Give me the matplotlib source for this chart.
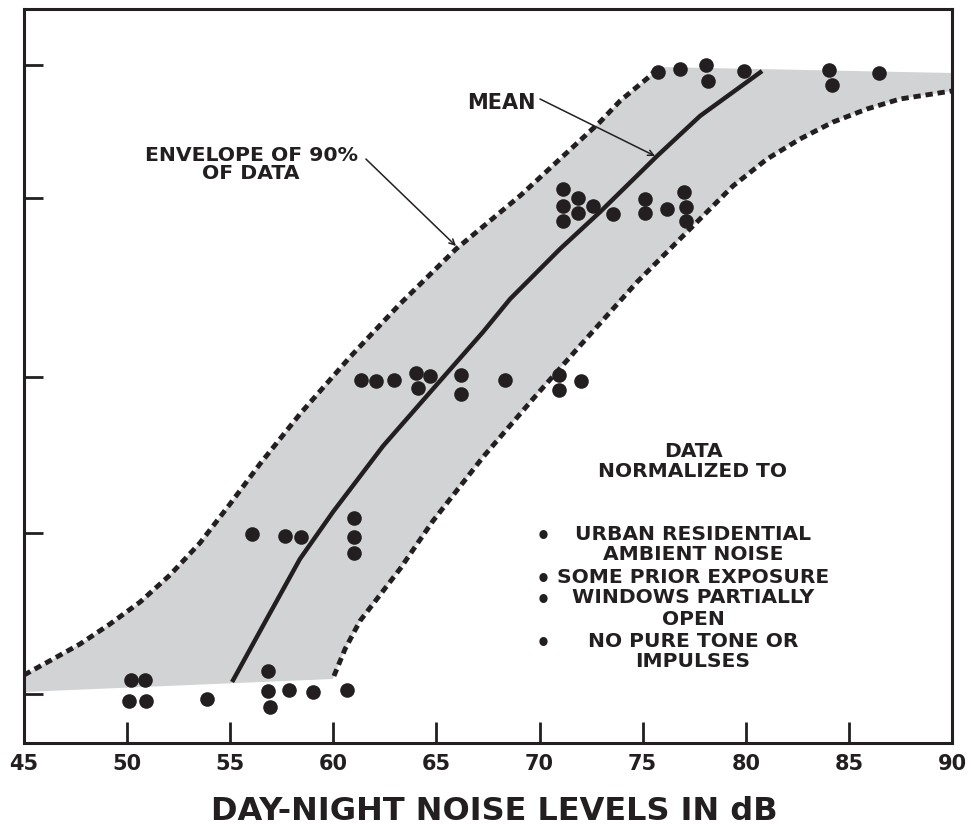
import matplotlib
matplotlib.use("Agg")
import matplotlib.pyplot as plt
import numpy as np

plt.rcParams['font.family'] = ['DejaVu Sans']
plt.rcParams['font.weight'] = 'bold'

INK = '#231f20'
FILL = '#d1d3d4'

# ---- data (x = day-night noise level dB, y = community reaction scale, arbitrary units) ----
obs_dnl = [75.74, 76.81, 78.07, 78.17, 79.91, 84.04, 84.18, 86.46,
           71.14, 71.14, 71.14, 71.86, 71.86, 72.59, 73.56, 75.11, 75.11, 76.18, 77.00, 77.10, 77.10,
           61.34, 62.07, 62.94, 64.01, 64.69, 64.11, 66.19, 66.19, 68.32, 70.94, 70.94, 72.01,
           56.06, 57.66, 58.43, 61.00, 61.00, 61.00,
           50.19, 50.87, 50.09, 50.92, 53.87, 56.83, 56.83, 57.85, 59.01, 56.93, 60.66]
obs_reaction = [91.42, 91.83, 92.37, 90.19, 91.55, 91.69, 89.65, 91.28,
                75.48, 73.16, 71.12, 74.25, 72.21, 73.16, 72.07, 74.11, 72.21, 72.75, 75.07, 73.02, 71.12,
                49.46, 49.32, 49.46, 50.41, 50.00, 48.37, 50.14, 47.55, 49.46, 50.14, 48.09, 49.32,
                28.47, 28.20, 28.07, 30.65, 28.07, 25.89,
                8.58, 8.58, 5.72, 5.72, 5.99, 9.81, 7.08, 7.22, 6.95, 4.90, 7.22]

mean_dnl = [55.09, 56.69, 58.38, 59.98, 62.41, 64.83, 67.26, 68.57, 70.99, 72.93, 75.70, 77.78, 80.79]
mean_reaction = [8.31, 16.49, 25.07, 31.47, 40.46, 48.23, 56.00, 60.49, 67.30, 72.34, 79.97, 85.42, 91.55]

upper_dnl = [45.00, 46.41, 47.72, 49.17, 50.63, 52.08, 53.53, 54.99, 56.44, 58.38, 60.81, 63.23,
             65.95, 69.10, 72.93, 73.90, 75.36, 75.74]
upper_reaction = [9.26, 11.44, 13.49, 16.21, 19.21, 22.89, 27.25, 32.56, 38.01, 44.82, 52.59, 59.81,
                  67.30, 74.66, 84.60, 87.47, 90.87, 92.10]

top_edge_dnl = [75.74, 90.00]
top_edge_reaction = [92.10, 91.28]

lower_dnl = [60.03, 60.57, 61.29, 62.26, 63.23, 64.83, 67.26, 69.68, 71.82, 74.73, 77.44, 79.38,
             81.03, 82.63, 84.23, 85.88, 87.48, 90.00]
lower_reaction = [9.13, 12.81, 16.62, 20.16, 23.71, 30.25, 38.96, 46.87, 53.68, 62.81, 70.44, 75.89,
                  79.56, 82.29, 84.60, 86.38, 87.74, 88.83]

bottom_edge_dnl = [45.00, 59.98]
bottom_edge_reaction = [6.95, 8.72]

x_ticks = [45, 50, 55, 60, 65, 70, 75, 80, 85, 90]
y_ticks = [6.68, 28.61, 49.86, 74.25, 92.40]

note_lines = ["DATA", "NORMALIZED TO", "URBAN RESIDENTIAL", "AMBIENT NOISE",
              "SOME PRIOR EXPOSURE", "WINDOWS PARTIALLY", "OPEN", "NO PURE TONE OR", "IMPULSES"]
bullet_column = "\u2022\n\n\u2022\n\u2022\n\n\u2022"

# ---- figure ----
fig = plt.figure(figsize=(9.71, 8.28), dpi=100)
ax = fig.add_axes([24/971, 84/828, 928/971, 734/828])

# envelope polygon
poly_x = np.concatenate([bottom_edge_dnl, lower_dnl, top_edge_dnl[::-1], upper_dnl[::-1]])
poly_y = np.concatenate([bottom_edge_reaction, lower_reaction, top_edge_reaction[::-1], upper_reaction[::-1]])
ax.fill(poly_x, poly_y, color=FILL, lw=0, zorder=1)

dash = (0, (1.5, 1.0))
ax.plot(upper_dnl, upper_reaction, color=INK, lw=3.5, linestyle=dash, zorder=2)
ax.plot(lower_dnl, lower_reaction, color=INK, lw=3.5, linestyle=dash, zorder=2)
ax.plot(mean_dnl, mean_reaction, color=INK, lw=3.2, zorder=3, solid_capstyle='butt')
ax.plot(obs_dnl, obs_reaction, 'o', color=INK, markersize=10.5, markeredgewidth=0, zorder=4)

ax.set_xlim(45, 90)
ax.set_ylim(0, 100)
ax.set_xticks(x_ticks)
ax.set_xticklabels([str(t) for t in x_ticks], fontsize=15, fontweight='bold', color=INK)
ax.set_yticks(y_ticks)
ax.set_yticklabels([])
ax.tick_params(axis='x', direction='in', length=15, width=2, color=INK, pad=7)
ax.tick_params(axis='y', direction='in', length=14, width=2, color=INK)
for s in ax.spines.values():
    s.set_linewidth(2.2)
    s.set_color(INK)

ax.set_xlabel("DAY-NIGHT NOISE LEVELS IN dB", fontsize=23, fontweight='bold', color=INK, va='top')
ax.xaxis.set_label_coords(0.5 + 6/928, -52/734)

# annotations
ax.annotate("", xy=(65.95, 67.71), xytext=(61.58, 79.56),
            arrowprops=dict(arrowstyle='->', color=INK, lw=1.1, shrinkA=0, shrinkB=0))
ax.annotate("", xy=(75.60, 79.97), xytext=(70.02, 87.74),
            arrowprops=dict(arrowstyle='->', color=INK, lw=1.1, shrinkA=0, shrinkB=0))
ax.text(56.01, 79.0, "ENVELOPE OF 90%\nOF DATA", ha='center', va='center', fontsize=14.7,
        fontweight='bold', color=INK, linespacing=0.95)
ax.text(68.13, 87.33, "MEAN", ha='center', va='center', fontsize=15, fontweight='bold', color=INK)

# notes block
cx = 77.44
note_y = [39.8, 37.06, 28.6, 25.75, 22.75, 19.9, 17.0, 14.0, 11.2]
for line, yy in zip(note_lines, note_y):
    ax.text(cx, yy, line, ha='center', va='center', fontsize=14.6, fontweight='bold', color=INK)
ax.text(70.17, 20.91, bullet_column, ha='center', va='center', fontsize=17, fontweight='bold',
        color=INK, linespacing=0.87)

fig.savefig("out.png", dpi=100)
